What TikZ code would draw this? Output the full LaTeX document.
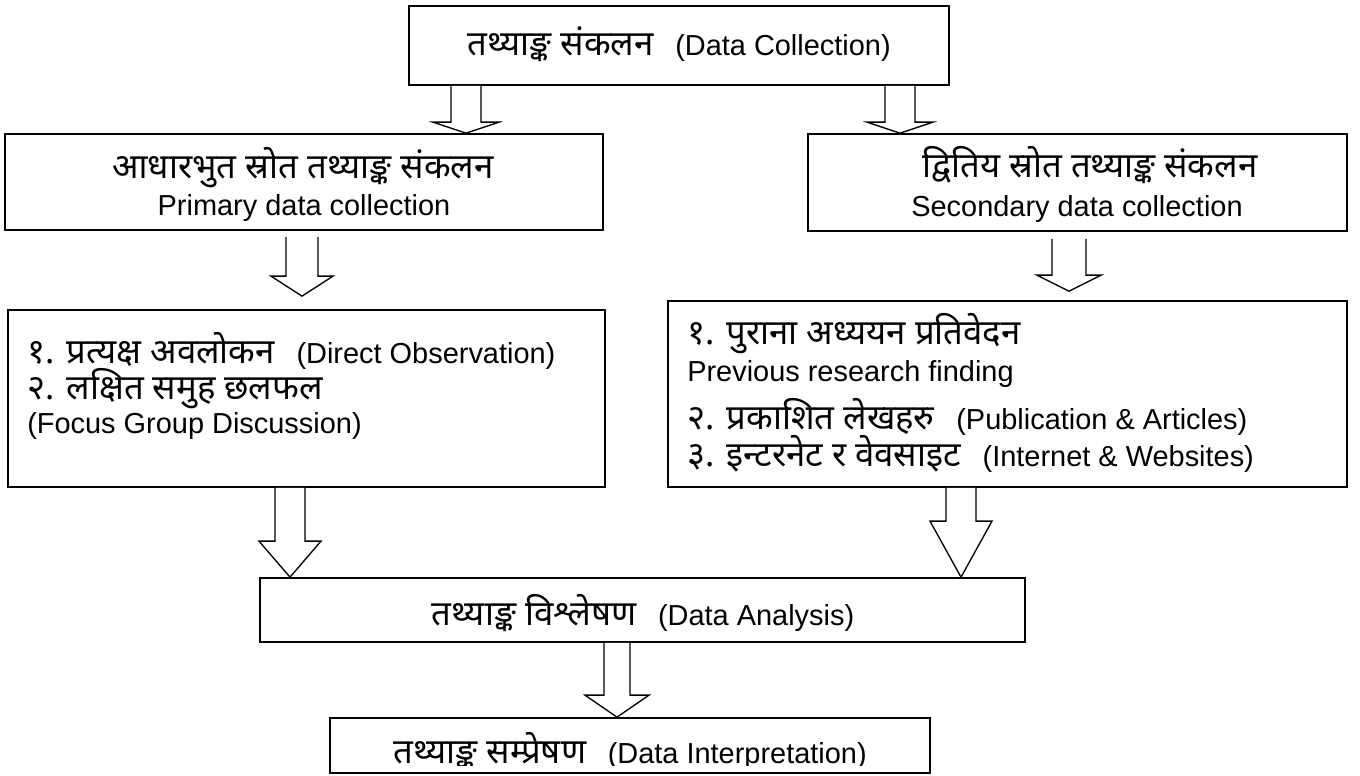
\documentclass[tikz,border=0pt]{standalone}
\usepackage{fontspec}
\setmainfont{Liberation Sans}
\newfontfamily\dev[Script=Devanagari,Scale=1.2]{Noto Sans}
\usetikzlibrary{calc,fit}
\newcommand\blkarrow[8]{%
  \coordinate (ba-t) at ($(#3,0 |- #1.south)+(0,#7)$);
  \coordinate (ba-p) at ($(#3,0 |- #2.north)+(0,-#8)$);
  \draw[blk] ($(ba-t)+(-#4,0)$) -- ($(ba-p)+(-#4,-#6)$) -- ($(ba-p)+(-#5,-#6)$) -- (ba-p)
     -- ($(ba-p)+(#5,-#6)$) -- ($(ba-p)+(#4,-#6)$) -- ($(ba-t)+(#4,0)$);
}
\newcommand\gap{\hspace{0.75em}}
\begin{document}
\begin{tikzpicture}[x=0.75pt,y=-0.75pt,
  box/.style={draw, line width=1.3pt, inner sep=0pt},
  txt/.style={inner sep=0pt, font=\fontsize{21.7}{26}\selectfont, anchor=base},
  ltxt/.style={txt, anchor=base west},
  blk/.style={draw, line width=1pt, line join=miter, fill=white}]
\fill[white] (0,0) rectangle (1360,775);
\useasboundingbox (0,0) rectangle (1360,775);

% boxes
\node[box, fit={(409,6)(949,85)}] (top) {};
\node[box, fit={(5,134)(603,230)}] (prim) {};
\node[box, fit={(808,134)(1347,231)}] (sec) {};
\node[box, fit={(8,310)(605,487)}] (pmeth) {};
\node[box, fit={(668,301)(1347,487)}] (smeth) {};
\node[box, fit={(260,578)(1025,642)}] (anal) {};
\node[box, fit={(330,718)(930,773)}] (interp) {};

% texts
\node[txt] (topt) at (679,55) {{\dev तथ्याङ्क संकलन}\gap(Data Collection)};
\node[txt] (prim1) at (303,178) {\dev आधारभुत स्रोत तथ्याङ्क संकलन};
\node[txt] (prim2) at (304,215) {Primary data collection};
\node[txt] (sec1) at (1090,177) {\dev द्वितिय स्रोत तथ्याङ्क संकलन};
\node[txt] (sec2) at (1077,216) {Secondary data collection};
\node[ltxt] (pm1) at (27,363) {{\dev १. प्रत्यक्ष अवलोकन}\gap(Direct Observation)};
\node[ltxt] (pm2) at (27,399) {\dev २. लक्षित समुह छलफल};
\node[ltxt] (pm3) at (27,433) {(Focus Group Discussion)};
\node[ltxt] (sm1) at (687,344) {\dev १. पुराना अध्ययन प्रतिवेदन};
\node[ltxt] (sm2) at (687,381) {Previous research finding};
\node[ltxt] (sm3) at (687,429) {{\dev २. प्रकाशित लेखहरु}\gap(Publication \& Articles)};
\node[ltxt] (sm4) at (687,466) {{\dev ३. इन्टरनेट र वेवसाइट}\gap(Internet \& Websites)};
\node[txt] (analt) at (643,625) {{\dev तथ्याङ्क विश्लेषण}\gap(Data Analysis)};
\begin{scope}
\clip (330,718) rectangle (930,765);
\node[txt] (interpt) at (630,763) {{\dev तथ्याङ्क सम्प्रेषण}\gap(Data Interpretation)};
\end{scope}

% block arrows
\blkarrow{top}{prim}{466}{15}{33}{11}{0}{0}
\blkarrow{top}{sec}{900}{15}{33}{11}{0}{0}
\blkarrow{prim}{pmeth}{302}{16}{31}{20}{6}{13}
\blkarrow{sec}{smeth}{1069}{17}{32}{16}{7}{9}
\blkarrow{pmeth}{anal}{290}{15}{31}{36}{0}{0}
\blkarrow{smeth}{anal}{961}{15}{31}{56}{0}{0}
\blkarrow{anal}{interp}{617}{13}{32}{22}{0}{0}
\end{tikzpicture}
\end{document}
